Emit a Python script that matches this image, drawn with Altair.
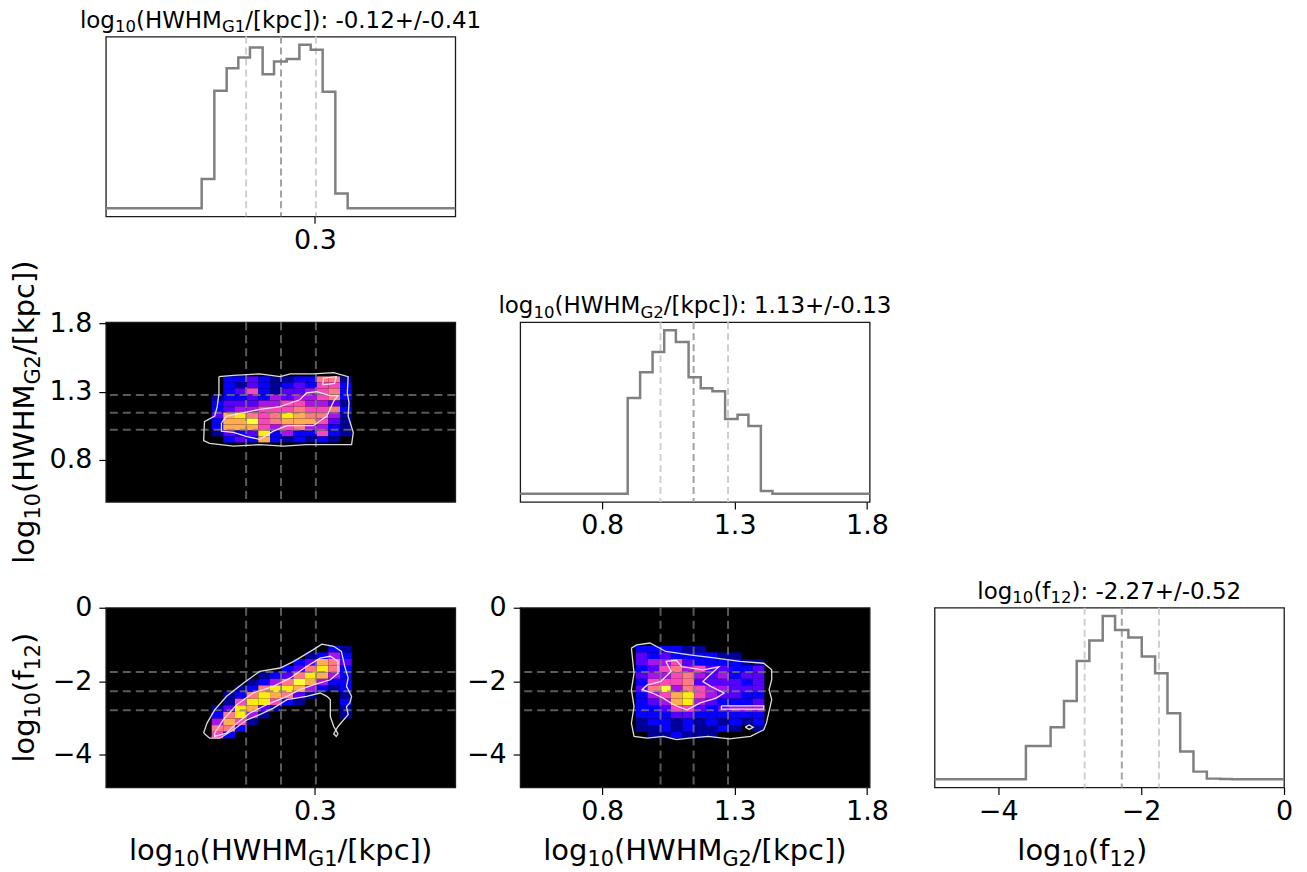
import altair as alt
import pandas as pd

FONT = "DejaVu Sans"

# ---------------- 1-D histograms (bin edges, heights) ----------------
G1_EDGES = [-1.033, -0.884, -0.739, -0.602, -0.465, -0.316, -0.182, -0.033, 0.116, 0.249, 0.390, 0.539, 0.684]
G1_COUNTS = [87, 350, 417, 449, 479, 399, 437, 445, 487, 472, 347, 44]
G1_DOM = [-2.16, 1.95]
G1_Q = [-0.51, -0.10, 0.31]

G2_EDGES = [0.896, 0.943, 0.990, 1.034, 1.078, 1.126, 1.172, 1.216, 1.264, 1.311, 1.352, 1.399, 1.443]
G2_COUNTS = [286, 363, 423, 488, 453, 348, 315, 306, 223, 236, 202, 8]
G2_DOM = [0.49, 1.81]
G2_Q = [1.02, 1.145, 1.275]

F12_EDGES = [-3.612, -3.439, -3.266, -3.079, -2.901, -2.724, -2.537, -2.364, -2.178, -1.991,
             -1.804, -1.631, -1.453, -1.267, -1.080, -0.893, -0.729]
F12_COUNTS = [100, 100, 156, 235, 355, 416, 490, 448, 425, 368, 318, 198, 83, 23, 2, 1]
F12_DOM = [-4.89, 0.0]
F12_Q = [-2.79, -2.27, -1.75]

# ---------------- 2-D histogram bins ----------------
G1_2D = [-0.915, -0.779, -0.641, -0.504, -0.367, -0.229, -0.092, 0.045, 0.182, 0.320, 0.456, 0.594, 0.732]
G2_2D = [0.927, 0.971, 1.015, 1.059, 1.103, 1.147, 1.191, 1.235, 1.279, 1.324, 1.368, 1.412]
F12_2D_TOPDOWN = [-1.034, -1.214, -1.394, -1.574, -1.754, -1.934, -2.114, -2.294, -2.474,
                  -2.654, -2.834, -3.014, -3.194, -3.374, -3.554]

# density level per cell (0 = empty), rows from top to bottom
ML_GRID = [
    [0, 3, 3, 4, 3, 2, 2, 3, 3, 7, 7, 2],
    [0, 3, 2, 4, 3, 2, 3, 4, 3, 6, 6, 3],
    [0, 3, 4, 6, 3, 2, 4, 4, 5, 6, 7, 3],
    [2, 3, 3, 4, 3, 5, 4, 5, 5, 6, 7, 3],
    [3, 4, 4, 4, 5, 5, 6, 6, 5, 5, 4, 2],
    [3, 4, 5, 5, 6, 6, 6, 7, 6, 6, 7, 3],
    [4, 8, 9, 7, 6, 7, 9, 8, 7, 7, 5, 2],
    [3, 8, 8, 10, 6, 7, 8, 8, 8, 6, 4, 2],
    [3, 8, 8, 8, 6, 5, 6, 7, 5, 5, 3, 2],
    [2, 4, 3, 4, 9, 3, 5, 3, 3, 6, 3, 2],
    [0, 3, 4, 3, 8, 3, 2, 3, 2, 3, 2, 0],
]
BL_GRID = [
    [0, 0, 0, 0, 0, 0, 0, 0, 0, 0, 3, 2],
    [0, 0, 0, 0, 0, 0, 0, 0, 2, 3, 5, 3],
    [0, 0, 0, 0, 0, 0, 0, 3, 4, 8, 7, 4],
    [0, 0, 0, 0, 0, 0, 3, 4, 7, 9, 7, 3],
    [0, 0, 0, 0, 2, 3, 4, 7, 9, 8, 5, 3],
    [0, 0, 0, 2, 3, 5, 7, 10, 8, 5, 3, 3],
    [0, 0, 2, 3, 7, 9, 9, 8, 5, 3, 2, 3],
    [0, 2, 3, 7, 9, 8, 7, 4, 2, 0, 0, 2],
    [0, 2, 6, 9, 9, 6, 3, 2, 0, 0, 0, 3],
    [2, 4, 9, 8, 4, 2, 0, 0, 0, 0, 0, 2],
    [3, 7, 9, 5, 2, 0, 0, 0, 0, 0, 0, 2],
    [5, 8, 6, 2, 0, 0, 0, 0, 0, 0, 0, 0],
    [7, 7, 3, 0, 0, 0, 0, 0, 0, 0, 0, 0],
    [6, 3, 0, 0, 0, 0, 0, 0, 0, 0, 0, 0],
]
BM_GRID = [
    [3, 3, 3, 3, 2, 2, 0, 0, 0, 0, 0],
    [4, 3, 4, 3, 3, 3, 3, 2, 2, 0, 0],
    [4, 5, 5, 6, 4, 3, 3, 3, 3, 2, 2],
    [3, 4, 6, 7, 5, 6, 4, 4, 3, 3, 4],
    [4, 5, 5, 6, 7, 5, 4, 5, 3, 4, 4],
    [3, 6, 6, 6, 7, 4, 4, 4, 4, 3, 4],
    [4, 7, 10, 5, 7, 6, 5, 5, 4, 4, 4],
    [3, 5, 6, 8, 9, 6, 5, 4, 4, 3, 3],
    [3, 4, 5, 8, 9, 5, 4, 3, 3, 3, 4],
    [3, 3, 4, 6, 6, 4, 3, 4, 5, 5, 5],
    [3, 3, 3, 4, 4, 3, 3, 3, 3, 3, 3],
    [2, 3, 3, 2, 3, 2, 3, 2, 3, 2, 3],
    [2, 2, 3, 2, 3, 2, 2, 3, 2, 0, 2],
    [0, 2, 2, 3, 2, 2, 2, 0, 0, 0, 0],
]
LEVELS = list(range(11))
LEVEL_COLORS = ["#000000", "#000052", "#000099", "#0800ff", "#5800ff", "#a714eb",
                "#f747b8", "#ff7a85", "#ffad52", "#ffeb14", "#ffffff"]

# ---------------- contour lines (data coordinates) ----------------
ML_OUTER = [(-0.83, 1.41), (-0.66, 1.42), (-0.35, 1.43), (-0.11, 1.41), (0.01, 1.43), (0.28, 1.43),
            (0.52, 1.44), (0.69, 1.41), (0.68, 1.29), (0.70, 1.22), (0.69, 1.12), (0.75, 1.00),
            (0.73, 0.91), (0.52, 0.91), (0.20, 0.91), (-0.07, 0.90), (-0.35, 0.91), (-0.66, 0.90),
            (-0.94, 0.92), (-1.01, 0.94), (-1.00, 1.08), (-0.88, 1.12), (-0.85, 1.19), (-0.83, 1.29),
            (-0.83, 1.41)]
ML_INNER = [(-0.80, 1.07), (-0.74, 1.12), (-0.58, 1.14), (-0.35, 1.17), (-0.11, 1.19), (0.12, 1.24),
            (0.20, 1.29), (0.32, 1.30), (0.48, 1.27), (0.57, 1.27), (0.52, 1.23), (0.44, 1.12),
            (0.28, 1.05), (-0.03, 1.05), (-0.19, 1.01), (-0.35, 0.95), (-0.50, 0.97), (-0.66, 1.00),
            (-0.80, 1.01), (-0.80, 1.07)]
ML_ISLAND = [(0.39, 1.35), (0.40, 1.40), (0.55, 1.41), (0.53, 1.36), (0.39, 1.35)]

BL_OUTER = [(-1.01, -3.41), (-0.97, -3.14), (-0.88, -2.78), (-0.74, -2.41), (-0.54, -2.05),
            (-0.35, -1.73), (-0.11, -1.64), (0.05, -1.46), (0.28, -1.14), (0.38, -0.99),
            (0.52, -1.05), (0.61, -1.19), (0.65, -1.60), (0.69, -1.91), (0.67, -2.14), (0.73, -2.41),
            (0.71, -2.59), (0.67, -2.69), (0.69, -2.91), (0.57, -3.23), (0.52, -3.43), (0.55, -3.50),
            (0.57, -3.43), (0.52, -3.23), (0.48, -2.96), (0.48, -2.50), (0.44, -2.41), (0.36, -2.32),
            (0.20, -2.41), (-0.03, -2.50), (-0.19, -2.73), (-0.35, -2.91), (-0.50, -3.05),
            (-0.66, -3.32), (-0.82, -3.55), (-0.94, -3.55), (-1.01, -3.41)]
BL_INNER = [(-0.88, -3.41), (-0.78, -3.05), (-0.62, -2.64), (-0.43, -2.32), (-0.19, -2.14),
            (0.01, -1.91), (0.20, -1.60), (0.36, -1.37), (0.48, -1.32), (0.57, -1.46), (0.57, -1.78),
            (0.48, -1.96), (0.28, -2.10), (0.12, -2.23), (-0.03, -2.41), (-0.27, -2.64),
            (-0.47, -2.87), (-0.62, -3.14), (-0.74, -3.41), (-0.88, -3.50), (-0.88, -3.41)]

BM_OUTER = [(0.91, -1.10), (0.93, -1.01), (0.98, -0.96), (1.04, -1.19), (1.13, -1.28), (1.23, -1.37),
            (1.32, -1.46), (1.41, -1.51), (1.44, -1.69), (1.44, -1.96), (1.43, -2.23), (1.44, -2.50),
            (1.42, -3.14), (1.41, -3.32), (1.36, -3.50), (1.28, -3.57), (1.20, -3.50), (1.13, -3.55),
            (1.08, -3.59), (1.03, -3.50), (0.97, -3.55), (0.92, -3.50), (0.91, -3.14), (0.92, -2.69),
            (0.91, -2.23), (0.92, -1.78), (0.91, -1.10)]
BM_DIAMOND = [(1.34, -3.25), (1.355, -3.19), (1.37, -3.25), (1.355, -3.31), (1.34, -3.25)]
BM_INNER = [(1.04, -1.46), (1.08, -1.43), (1.10, -1.60), (1.18, -1.69), (1.24, -1.61), (1.20, -1.87),
            (1.18, -2.01), (1.21, -2.14), (1.26, -2.32), (1.23, -2.46), (1.17, -2.59), (1.12, -2.78),
            (1.07, -2.64), (1.03, -2.46), (0.99, -2.32), (0.95, -2.23), (0.97, -2.10), (1.02, -2.01),
            (1.06, -1.73), (1.04, -1.46)]
BM_BAR = [(1.25, -2.67), (1.41, -2.67), (1.41, -2.76), (1.25, -2.76), (1.25, -2.67)]

# ---------------- text ----------------
T_G1 = [("log", 0), ("10", 1), ("(HWHM", 0), ("G1", 1), ("/[kpc]): -0.12+/-0.41", 0)]
T_G2 = [("log", 0), ("10", 1), ("(HWHM", 0), ("G2", 1), ("/[kpc]): 1.13+/-0.13", 0)]
T_F12 = [("log", 0), ("10", 1), ("(f", 0), ("12", 1), ("): -2.27+/-0.52", 0)]
L_G1 = [("log", 0), ("10", 1), ("(HWHM", 0), ("G1", 1), ("/[kpc])", 0)]
L_G2 = [("log", 0), ("10", 1), ("(HWHM", 0), ("G2", 1), ("/[kpc])", 0)]
L_F12 = [("log", 0), ("10", 1), ("(f", 0), ("12", 1), (")", 0)]

# ---------------- layout / style ----------------
W, H = 350, 180
TITLE_FS, LABEL_FS, TICK_FS = 23, 29, 27
SUB_RATIO, SUB_SHIFT = 0.72, 0.2
TITLE_BASE = -9
XLABEL_BASE = H + 73
ADV = {'l': 0.278, 'o': 0.612, 'g': 0.635, '(': 0.390, ')': 0.390, 'H': 0.752, 'W': 0.989,
       'M': 0.863, 'G': 0.776, '/': 0.337, '[': 0.390, ']': 0.390, 'k': 0.579, 'p': 0.635,
       'c': 0.550, ':': 0.337, ' ': 0.318, '-': 0.361, '.': 0.318, '+': 0.838, 'f': 0.352}
ONE = pd.DataFrame({"a": [0]})


def tw(s, fs):
    return sum(ADV.get(ch, 0.636) for ch in s) * fs


def pieces_layers(pieces, fs, center, base, vertical=False):
    sizes = [fs * SUB_RATIO if sub else fs for _, sub in pieces]
    widths = [tw(s, z) for (s, _), z in zip(pieces, sizes)]
    total = sum(widths)
    out = []
    pos = center - total / 2 if not vertical else center + total / 2
    for (s, sub), z, w in zip(pieces, sizes, widths):
        off = SUB_SHIFT * fs if sub else 0
        if vertical:
            m = alt.Chart(ONE).mark_text(text=s, align="left", baseline="alphabetic", angle=270,
                                         font=FONT, fontSize=z, color="black").encode(
                x=alt.value(base + off), y=alt.value(pos))
            pos -= w
        else:
            m = alt.Chart(ONE).mark_text(text=s, align="left", baseline="alphabetic",
                                         font=FONT, fontSize=z, color="black").encode(
                x=alt.value(pos), y=alt.value(base + off))
            pos += w
        out.append(m)
    return out


def hist_panel(edges, counts, dom, q, ticks, fmt, title, xlabel=None, xlabel_cx=W / 2):
    M = max(counts)
    xs = [dom[0]] + list(edges) + [dom[1]]
    ys = [0] + list(counts) + [0, 0]
    df = pd.DataFrame({"x": xs, "y": ys})
    sx = alt.Scale(domain=dom, nice=False, zero=False)
    ax = alt.Axis(values=ticks, format=fmt, title=None, labelFlush=False, labelOverlap=False)
    sy = alt.Scale(domain=[-0.05 * M, 1.05 * M], nice=False, zero=False)
    qdf = pd.DataFrame({"v": q, "k": ["outer", "mid", "outer"]})
    rules = alt.Chart(qdf).mark_rule(strokeDash=[7, 4], strokeWidth=2).encode(
        x=alt.X("v:Q", scale=sx, axis=ax),
        color=alt.Color("k:N", scale=alt.Scale(domain=["outer", "mid"], range=["#cfcfcf", "#a3a3a3"]),
                        legend=None))
    line = alt.Chart(df).mark_line(interpolate="step-after", color="#808080", strokeWidth=2.5).encode(
        x=alt.X("x:Q", scale=sx, axis=ax),
        y=alt.Y("y:Q", scale=sy, axis=None))
    layers = [rules, line] + pieces_layers(title, TITLE_FS, W / 2, TITLE_BASE)
    if xlabel:
        layers += pieces_layers(xlabel, LABEL_FS, xlabel_cx, XLABEL_BASE)
    return alt.layer(*layers).properties(width=W, height=H)


def loops_df(loops):
    rows = []
    for i, pts in enumerate(loops):
        for j, (x, y) in enumerate(pts):
            rows.append({"x": x, "y": y, "o": j, "id": i})
    return pd.DataFrame(rows)


def panel2d(grid, xedges, yedges_top, xdom, ydom, xq, yq, outer, inner, xaxis, yaxis, extra):
    cells = []
    for r, row in enumerate(grid):
        for c, lev in enumerate(row):
            if lev > 0:
                cells.append({"x1": xedges[c], "x2": xedges[c + 1],
                              "y1": yedges_top[r], "y2": yedges_top[r + 1], "lev": lev})
    cdf = pd.DataFrame(cells)
    sx = alt.Scale(domain=xdom, nice=False, zero=False)
    sy = alt.Scale(domain=ydom, nice=False, zero=False)
    rect = alt.Chart(cdf).mark_rect().encode(
        x=alt.X("x1:Q", scale=sx, axis=xaxis), x2="x2:Q",
        y=alt.Y("y1:Q", scale=sy, axis=yaxis), y2="y2:Q",
        color=alt.Color("lev:Q", scale=alt.Scale(domain=LEVELS, range=LEVEL_COLORS), legend=None))
    vr = alt.Chart(pd.DataFrame({"v": xq})).mark_rule(
        strokeDash=[8, 5], strokeWidth=2, color="#808080", opacity=0.7).encode(
        x=alt.X("v:Q", scale=sx, axis=xaxis))
    hr = alt.Chart(pd.DataFrame({"v": yq})).mark_rule(
        strokeDash=[8, 5], strokeWidth=2, color="#808080", opacity=0.7).encode(
        y=alt.Y("v:Q", scale=sy, axis=yaxis))
    co = alt.Chart(loops_df(outer)).mark_line(color="#dcdcdc", strokeWidth=1.3).encode(
        x=alt.X("x:Q", scale=sx, axis=xaxis), y=alt.Y("y:Q", scale=sy, axis=yaxis),
        detail="id:N", order="o:Q")
    ci = alt.Chart(loops_df(inner)).mark_line(color="#f4dcf4", strokeWidth=1.3).encode(
        x=alt.X("x:Q", scale=sx, axis=xaxis), y=alt.Y("y:Q", scale=sy, axis=yaxis),
        detail="id:N", order="o:Q")
    return alt.layer(rect, vr, hr, co, ci, *extra).properties(
        width=W, height=H, view=alt.ViewBackground(fill="black"))


def blank():
    return alt.Chart(ONE).mark_point(opacity=0).encode(
        x=alt.X("a:Q", axis=None), y=alt.Y("a:Q", axis=None)).properties(
        width=W, height=H, view=alt.ViewBackground(stroke="transparent"))


ax_g1 = alt.Axis(values=[0.3], format=".1f", title=None, labelFlush=False, labelOverlap=False)
ax_g2 = alt.Axis(values=[0.8, 1.3, 1.8], format=".1f", title=None, labelFlush=False, labelOverlap=False)
ax_f12 = alt.Axis(values=[0, -2, -4], format="d", title=None, labelFlush=False, labelOverlap=False)

G2_TOP = list(reversed(G2_2D))

tl = hist_panel(G1_EDGES, G1_COUNTS, G1_DOM, G1_Q, [0.3], ".1f", T_G1)
mm = hist_panel(G2_EDGES, G2_COUNTS, G2_DOM, G2_Q, [0.8, 1.3, 1.8], ".1f", T_G2)
br = hist_panel(F12_EDGES, F12_COUNTS, F12_DOM, F12_Q, [-4, -2, 0], "d", T_F12,
                xlabel=L_F12, xlabel_cx=148)

ml = panel2d(ML_GRID, G1_2D, G2_TOP, G1_DOM, G2_DOM, G1_Q, G2_Q,
             [ML_OUTER], [ML_INNER, ML_ISLAND], None, ax_g2,
             pieces_layers(L_G2, LABEL_FS, H / 2, -72, vertical=True))
bl = panel2d(BL_GRID, G1_2D, F12_2D_TOPDOWN, G1_DOM, F12_DOM, G1_Q, F12_Q,
             [BL_OUTER], [BL_INNER], ax_g1, ax_f12,
             pieces_layers(L_F12, LABEL_FS, H / 2, -72, vertical=True)
             + pieces_layers(L_G1, LABEL_FS, W / 2, XLABEL_BASE))
bm = panel2d(BM_GRID, G2_2D, F12_2D_TOPDOWN, G2_DOM, F12_DOM, G2_Q, F12_Q,
             [BM_OUTER, BM_DIAMOND], [BM_INNER, BM_BAR], ax_g2, ax_f12,
             pieces_layers(L_G2, LABEL_FS, W / 2, XLABEL_BASE))

chart = alt.concat(tl, blank(), blank(), ml, mm, blank(), bl, bm, br,
                   columns=3, spacing={"row": 106, "column": 65}, bounds="flush").configure(
    padding={"left": 2, "top": 0, "right": 5, "bottom": 0}, background="white"
).configure_view(stroke="#1a1a1a", strokeWidth=1.3).configure_axis(
    labelFont=FONT, labelFontSize=TICK_FS, labelColor="black", tickColor="black",
    tickSize=7, tickWidth=1.2, domain=False, grid=False, labelPadding=4
).configure_axisY(labelPadding=7)

chart.save("out.html", embed_options={"renderer": "svg", "actions": False})
